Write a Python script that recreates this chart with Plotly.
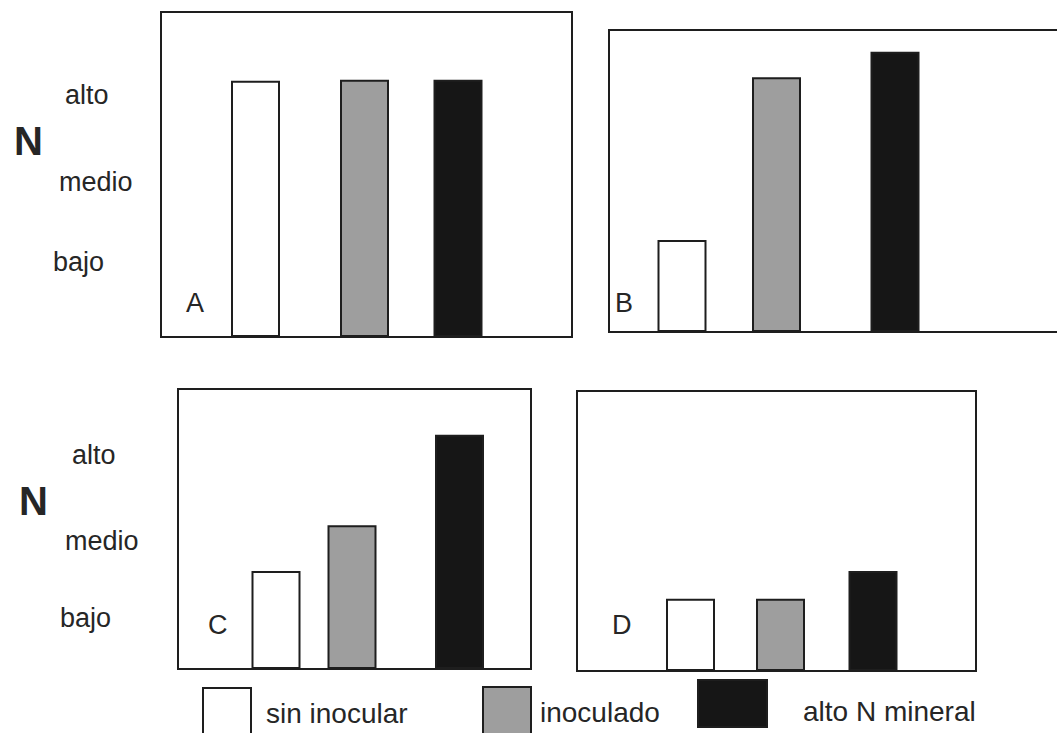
import plotly.graph_objects as go

# ---------------- data ----------------
panels = ["A", "B", "C", "D"]
series = ["sin inocular", "inoculado", "alto N mineral"]
levels = ["bajo", "medio", "alto"]
vals_A = [3.15, 3.16, 3.16]
vals_B = [1.20, 3.37, 3.71]
vals_C = [1.38, 2.04, 3.34]
vals_D = [1.01, 1.01, 1.41]
values = {"A": vals_A, "B": vals_B, "C": vals_C, "D": vals_D}

# ---------------- layout constants (pixels) ----------------
W, H = 1057, 733
boxes = {  # left, top, right, bottom
    "A": (162, 13, 571, 336),
    "B": (610, 31, 1057, 331),
    "C": (179, 390, 530, 668),
    "D": (578, 392, 975, 670),
}
bar_centers = {
    "A": [255.5, 364.5, 458],
    "B": [682, 776.5, 895],
    "C": [276, 352, 459.5],
    "D": [690.5, 780.5, 873],
}
BAR_W = 47
fills = ["#ffffff", "#9e9e9e", "#161616"]
edge = "#1e1e1e"
txt = "#262626"
FONT = "Liberation Sans, Arial, sans-serif"


def px(x):
    return x / W


def py(y):
    return 1 - y / H


fig = go.Figure()
layout_axes = {}
for i, p in enumerate(panels):
    l, t, r, b = boxes[p]
    xa = "x" if i == 0 else f"x{i+1}"
    ya = "y" if i == 0 else f"y{i+1}"
    for k, s in enumerate(series):
        fig.add_trace(go.Bar(
            x=[bar_centers[p][k] - l], y=[values[p][k]], width=BAR_W,
            name=s, showlegend=False, xaxis=xa, yaxis=ya,
            marker=dict(color=fills[k], line=dict(color=edge, width=2)),
        ))
    xk = "xaxis" if i == 0 else f"xaxis{i+1}"
    yk = "yaxis" if i == 0 else f"yaxis{i+1}"
    layout_axes[xk] = dict(domain=[px(l), min(px(r), 1.0)], range=[0, r - l],
                           anchor=ya, showline=True, mirror=True,
                           linecolor=edge, linewidth=2, showgrid=False,
                           zeroline=False, showticklabels=False, ticks="")
    layout_axes[yk] = dict(domain=[py(b), py(t)], range=[0, 4], anchor=xa,
                           showline=True, mirror=(p != "B"), linecolor=edge,
                           linewidth=2, showgrid=False, zeroline=False,
                           showticklabels=False, ticks="")

annotations = []
# panel letters
letter_pos = {"A": (195, 303), "B": (624, 303), "C": (218, 625), "D": (622, 625)}
for p, (x, y) in letter_pos.items():
    annotations.append(dict(text=p, x=px(x), y=py(y), xref="paper", yref="paper",
                            showarrow=False, font=dict(size=27, color=txt, family=FONT),
                            xanchor="center", yanchor="middle"))

# level labels and N
label_rows = [
    {"N": (28, 141), "alto": (87, 95), "medio": (96, 182), "bajo": (78, 262)},
    {"N": (33, 501), "alto": (94, 455), "medio": (102, 541), "bajo": (85, 618)},
]
for row in label_rows:
    nx, ny = row["N"]
    annotations.append(dict(text="<b>N</b>", x=px(nx), y=py(ny), xref="paper", yref="paper",
                            showarrow=False, font=dict(size=40, color=txt, family=FONT),
                            xanchor="center", yanchor="middle"))
    for lv in levels:
        x, y = row[lv]
        annotations.append(dict(text=lv, x=px(x), y=py(y), xref="paper", yref="paper",
                                showarrow=False, font=dict(size=27, color=txt, family=FONT),
                                xanchor="center", yanchor="middle"))

# legend (custom swatches)
legend_boxes = [(203, 688, 251, 740), (483, 687, 531, 740), (698, 680, 767, 727)]
legend_text = [(264, 713), (538, 712), (801, 711)]
shapes = []
for k, s in enumerate(series):
    x0, y0, x1, y1 = legend_boxes[k]
    shapes.append(dict(type="rect", xref="paper", yref="paper",
                       x0=px(x0), x1=px(x1), y0=py(y1), y1=py(y0),
                       fillcolor=fills[k], line=dict(color=edge, width=2)))
    tx, ty = legend_text[k]
    annotations.append(dict(text=s, x=px(tx), y=py(ty), xref="paper", yref="paper",
                            showarrow=False, font=dict(size=28, color=txt, family=FONT),
                            xanchor="left", yanchor="middle"))

fig.update_layout(
    width=W, height=H, autosize=False,
    margin=dict(l=0, r=0, t=0, b=0),
    paper_bgcolor="white", plot_bgcolor="white",
    showlegend=False, barmode="overlay",
    annotations=annotations, shapes=shapes,
    **layout_axes,
)

fig.write_html("out.html", config={"displayModeBar": False},
               post_script="document.body.style.margin='0';document.body.style.overflow='hidden';")
